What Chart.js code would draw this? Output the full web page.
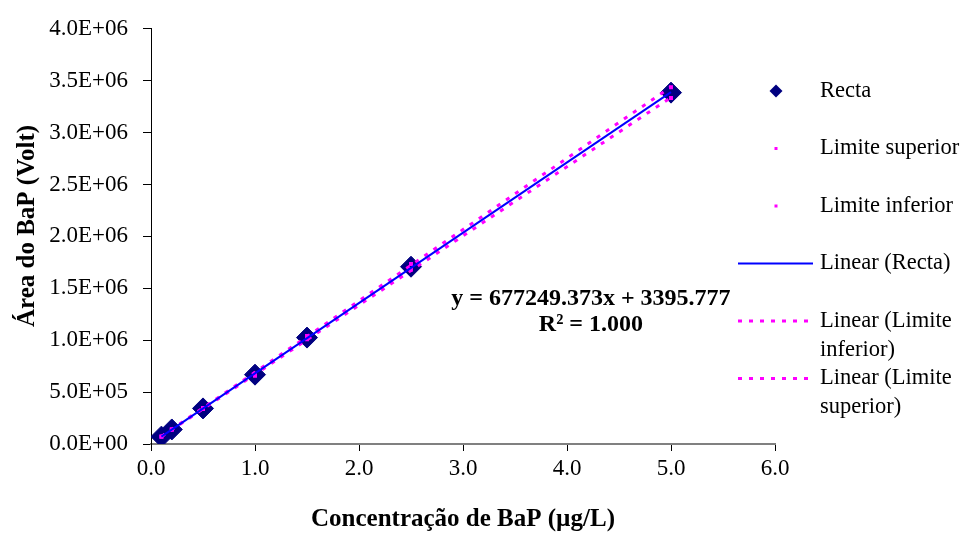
<!DOCTYPE html>
<html lang="pt">
<head>
<meta charset="UTF-8">
<title>Recta de calibração BaP</title>
<script src="https://cdn.jsdelivr.net/npm/chart.js"></script>
<style>
  body { margin: 0; background: #fff; }
  canvas { display: block; }
</style>
</head>
<body>
<canvas id="grafico" width="962" height="534"></canvas>
<script>
// Concentrações dos padrões (µg/L) e áreas medidas
const concentracoes = [0.1, 0.2, 0.5, 1.0, 1.5, 2.5, 5.0];
const areas = [71000, 140000, 343000, 668000, 1025000, 1708000, 3385000];
const limiteSuperior = [72000, 142000, 348000, 678000, 1040000, 1734000, 3436000];
const limiteInferior = [70000, 138000, 338000, 658000, 1010000, 1682000, 3334000];

// Recta de regressão (Excel)
const declive = 677249.373;
const ordenada = 3395.777;
const r2 = 1.000;

const xTicks = [0, 1, 2, 3, 4, 5, 6];
const yMax = 4000000;
const yPasso = 500000;

const tituloY = 'Área do BaP (Volt)';
const tituloX = 'Concentração de BaP (µg/L)';

const legendaTextos = [
  ['Recta'],
  ['Limite superior'],
  ['Limite inferior'],
  ['Linear (Recta)'],
  ['Linear (Limite', 'inferior)'],
  ['Linear (Limite', 'superior)']
];

const FONTE = "'Liberation Serif', 'Times New Roman', serif";
const MAGENTA = '#FF00FF';
const AZUL = '#0000FF';
const NAVY = '#000080';

function pontos(xs, ys) {
  return xs.map((x, i) => ({ x: x, y: ys[i] }));
}

// ajuste linear (mínimos quadrados) para as linhas de tendência dos limites
function tendencia(xs, ys) {
  const n = xs.length;
  const mx = xs.reduce((a, b) => a + b, 0) / n;
  const my = ys.reduce((a, b) => a + b, 0) / n;
  let sxy = 0, sxx = 0;
  for (let i = 0; i < n; i++) {
    sxy += (xs[i] - mx) * (ys[i] - my);
    sxx += (xs[i] - mx) * (xs[i] - mx);
  }
  const b = sxy / sxx;
  const a = my - b * mx;
  const x0 = Math.min(...xs), x1 = Math.max(...xs);
  return [{ x: x0, y: a + b * x0 }, { x: x1, y: a + b * x1 }];
}

const xMin = Math.min(...concentracoes);
const xMaxDados = Math.max(...concentracoes);
const tendRecta = [
  { x: xMin, y: declive * xMin + ordenada },
  { x: xMaxDados, y: declive * xMaxDados + ordenada }
];

function formatoCientifico(v) {
  const partes = v.toExponential(1).split('e');
  const exp = parseInt(partes[1], 10);
  const sinal = exp < 0 ? '-' : '+';
  return partes[0] + 'E' + sinal + String(Math.abs(exp)).padStart(2, '0');
}

// título do eixo Y, legenda à direita e equação da recta
const extras = {
  id: 'extras',
  afterDraw(chart) {
    const ctx = chart.ctx;
    const ds = chart.data.datasets;
    ctx.save();

    // título vertical
    ctx.save();
    ctx.translate(28, 226);
    ctx.rotate(-Math.PI / 2);
    ctx.fillStyle = '#000';
    ctx.font = 'bold 25px ' + FONTE;
    ctx.textAlign = 'center';
    ctx.textBaseline = 'middle';
    ctx.fillText(tituloY, 0, 0);
    ctx.restore();

    // equação
    const xs = chart.scales.x, ys = chart.scales.y;
    const ex = xs.getPixelForValue(4.23);
    const ey = ys.getPixelForValue(1403000);
    ctx.fillStyle = '#000';
    ctx.font = 'bold 24px ' + FONTE;
    ctx.textAlign = 'center';
    ctx.textBaseline = 'middle';
    ctx.fillText('y = ' + declive.toFixed(3) + 'x + ' + ordenada.toFixed(3), ex, ey);
    ctx.fillText('R\u00B2 = ' + r2.toFixed(3), ex, ey + 26);

    // legenda
    const mx = 776, lx0 = 738, lx1 = 813, tx = 820;
    ctx.font = '22.5px ' + FONTE;
    ctx.textAlign = 'left';
    legendaTextos.forEach((linhas, i) => {
      const y = 91 + i * 57.5;
      const d = ds[i];
      if (i === 0) {
        ctx.fillStyle = d.backgroundColor;
        ctx.beginPath();
        ctx.moveTo(mx, y - 6.5);
        ctx.lineTo(mx + 6.5, y);
        ctx.lineTo(mx, y + 6.5);
        ctx.lineTo(mx - 6.5, y);
        ctx.closePath();
        ctx.fill();
      } else if (i < 3) {
        ctx.fillStyle = d.backgroundColor;
        ctx.fillRect(mx - 1.5, y - 1.5, 3, 3);
      } else {
        ctx.strokeStyle = d.borderColor;
        ctx.lineWidth = d.borderWidth;
        ctx.setLineDash(d.borderDash || []);
        ctx.beginPath();
        ctx.moveTo(lx0, y);
        ctx.lineTo(lx1, y);
        ctx.stroke();
        ctx.setLineDash([]);
      }
      ctx.fillStyle = '#000';
      linhas.forEach((t, k) => ctx.fillText(t, tx, y + k * 29));
    });
    ctx.restore();
  }
};

new Chart(document.getElementById('grafico').getContext('2d'), {
  type: 'scatter',
  data: {
    datasets: [
      {
        label: 'Recta',
        data: pontos(concentracoes, areas),
        pointStyle: 'rectRot',
        pointRadius: 10.5,
        backgroundColor: NAVY,
        borderColor: NAVY,
        borderWidth: 1,
        order: 6
      },
      {
        label: 'Limite superior',
        data: pontos(concentracoes, limiteSuperior),
        pointStyle: 'rect',
        pointRadius: 2.8,
        backgroundColor: MAGENTA,
        borderColor: MAGENTA,
        borderWidth: 0,
        order: 5
      },
      {
        label: 'Limite inferior',
        data: pontos(concentracoes, limiteInferior),
        pointStyle: 'rect',
        pointRadius: 2.8,
        backgroundColor: MAGENTA,
        borderColor: MAGENTA,
        borderWidth: 0,
        order: 4
      },
      {
        label: 'Linear (Recta)',
        data: tendRecta,
        showLine: true,
        pointRadius: 0,
        borderColor: AZUL,
        backgroundColor: AZUL,
        borderWidth: 2,
        order: 1
      },
      {
        label: 'Linear (Limite inferior)',
        data: tendencia(concentracoes, limiteInferior),
        showLine: true,
        pointRadius: 0,
        borderColor: MAGENTA,
        backgroundColor: MAGENTA,
        borderWidth: 3,
        borderDash: [4, 7],
        order: 2
      },
      {
        label: 'Linear (Limite superior)',
        data: tendencia(concentracoes, limiteSuperior),
        showLine: true,
        pointRadius: 0,
        borderColor: MAGENTA,
        backgroundColor: MAGENTA,
        borderWidth: 3,
        borderDash: [4, 7],
        order: 3
      }
    ]
  },
  options: {
    responsive: false,
    animation: false,
    layout: { padding: { left: 0, right: 187, top: 24, bottom: 0 } },
    plugins: {
      legend: { display: false },
      tooltip: { enabled: false }
    },
    scales: {
      x: {
        type: 'linear',
        min: 0,
        max: 6,
        afterFit: s => { s.height = 90; },
        afterBuildTicks: s => { s.ticks = xTicks.map(v => ({ value: v })); },
        border: { display: true, color: '#808080', width: 2 },
        grid: { drawOnChartArea: false, drawTicks: true, tickLength: 7, color: '#000' },
        ticks: {
          color: '#000',
          padding: 4,
          maxRotation: 0,
          font: { family: FONTE, size: 23 },
          callback: v => Number(v).toFixed(1)
        },
        title: {
          display: true,
          text: tituloX,
          color: '#000',
          padding: { top: 0, bottom: -1 },
          font: { family: FONTE, size: 25, weight: 'bold' }
        }
      },
      y: {
        type: 'linear',
        min: 0,
        max: yMax,
        afterFit: s => { s.width = 151; },
        border: { display: true, color: '#000', width: 1 },
        grid: { drawOnChartArea: false, drawTicks: true, tickLength: 8, color: '#000' },
        ticks: {
          color: '#000',
          stepSize: yPasso,
          padding: 15,
          font: { family: FONTE, size: 23 },
          callback: v => formatoCientifico(v)
        },
        title: { display: false }
      }
    }
  },
  plugins: [extras]
});
</script>
</body>
</html>
